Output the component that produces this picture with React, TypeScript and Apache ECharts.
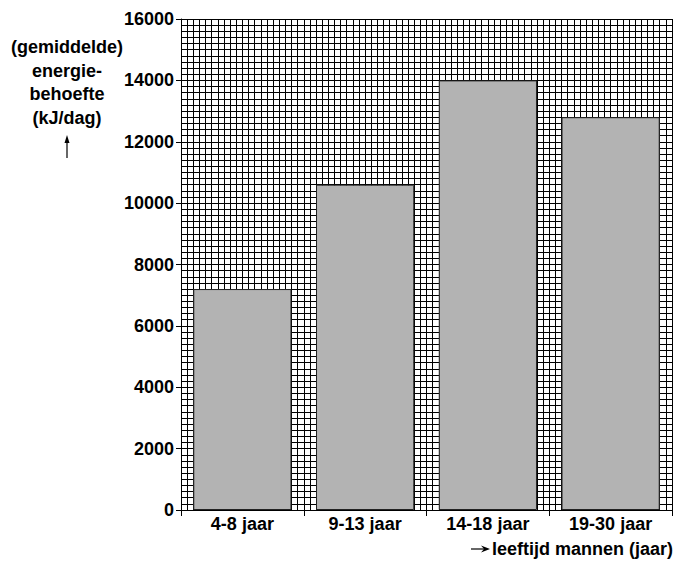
import React, { useEffect, useRef } from "react";
import * as echarts from "echarts";

const categories = ["4-8 jaar", "9-13 jaar", "14-18 jaar", "19-30 jaar"];
const energyValues = [7200, 10600, 14000, 12800];
const yTicks = { min: 0, max: 16000, interval: 2000 };
const yLabelLines = ["(gemiddelde)", "energie-", "behoefte", "(kJ/dag)"];
const xLabelText = "leeftijd mannen (jaar)";

const FONT = '"Liberation Sans", Arial, sans-serif';

export default function App() {
  const ref = useRef<HTMLDivElement>(null);
  useEffect(() => {
    if (!ref.current) return;
    const chart = echarts.init(ref.current, null, { renderer: "svg" });
    const lineY = [47, 71, 94, 118];
    const graphics: any[] = yLabelLines.map((t, i) => ({
      type: "text",
      x: 67,
      y: lineY[i],
      style: {
        text: t,
        font: `bold 18px ${FONT}`,
        fill: "#000",
        align: "center",
        verticalAlign: "middle",
      },
    }));
    graphics.push(
      { type: "line", shape: { x1: 67, y1: 158, x2: 67, y2: 141 }, style: { stroke: "#000", lineWidth: 1.2 } },
      { type: "polygon", shape: { points: [[67, 135], [64.5, 143], [69.5, 143]] }, style: { fill: "#000" } },
      { type: "line", shape: { x1: 471, y1: 549, x2: 484, y2: 549 }, style: { stroke: "#000", lineWidth: 1.2 } },
      { type: "polygon", shape: { points: [[490, 549], [481, 545.5], [484, 549], [481, 552.5]] }, style: { fill: "#000" } },
      {
        type: "text",
        x: 673,
        y: 549,
        style: {
          text: xLabelText,
          font: `bold 18px ${FONT}`,
          fill: "#000",
          align: "right",
          verticalAlign: "middle",
        },
      }
    );
    chart.setOption({
      animation: false,
      backgroundColor: "#fff",
      grid: { left: 181, top: 19, right: 6, bottom: 51, containLabel: false },
      xAxis: [
        {
          type: "category",
          data: categories,
          boundaryGap: true,
          axisLine: { show: true, lineStyle: { color: "#000", width: 1 } },
          axisTick: { show: true, length: 6, alignWithLabel: false, lineStyle: { color: "#000" } },
          axisLabel: { color: "#000", fontSize: 18, fontWeight: "bold", fontFamily: FONT, margin: 5 },
          splitLine: { show: false },
          z: 5,
        },
        {
          type: "value",
          min: 0,
          max: 80,
          interval: 1,
          position: "top",
          axisLine: { show: false },
          axisTick: { show: false },
          axisLabel: { show: false },
          splitLine: { show: true, lineStyle: { color: "#000", width: 1 } },
        },
      ],
      yAxis: {
        type: "value",
        min: yTicks.min,
        max: yTicks.max,
        interval: yTicks.interval,
        axisLine: { show: true, lineStyle: { color: "#000", width: 1 } },
        axisTick: { show: true, length: 5, lineStyle: { color: "#000" } },
        axisLabel: {
          color: "#000",
          fontSize: 18,
          fontWeight: "bold",
          fontFamily: FONT,
          margin: 7,
          formatter: (v: number) => String(v),
        },
        splitLine: { show: true, lineStyle: { color: "#000", width: 1 } },
        minorTick: { show: false, splitNumber: 10 },
        minorSplitLine: { show: true, lineStyle: { color: "#000", width: 1 } },
      },
      series: [
        {
          type: "bar",
          xAxisIndex: 0,
          data: energyValues,
          barWidth: "80%",
          itemStyle: { color: "#b3b3b3", borderColor: "#222", borderWidth: 1 },
          z: 3,
        },
      ],
      graphic: graphics,
    });
    return () => chart.dispose();
  }, []);
  return (
    <div
      ref={ref}
      style={{ position: "fixed", left: 0, top: 0, width: 678, height: 561 }}
    />
  );
}
